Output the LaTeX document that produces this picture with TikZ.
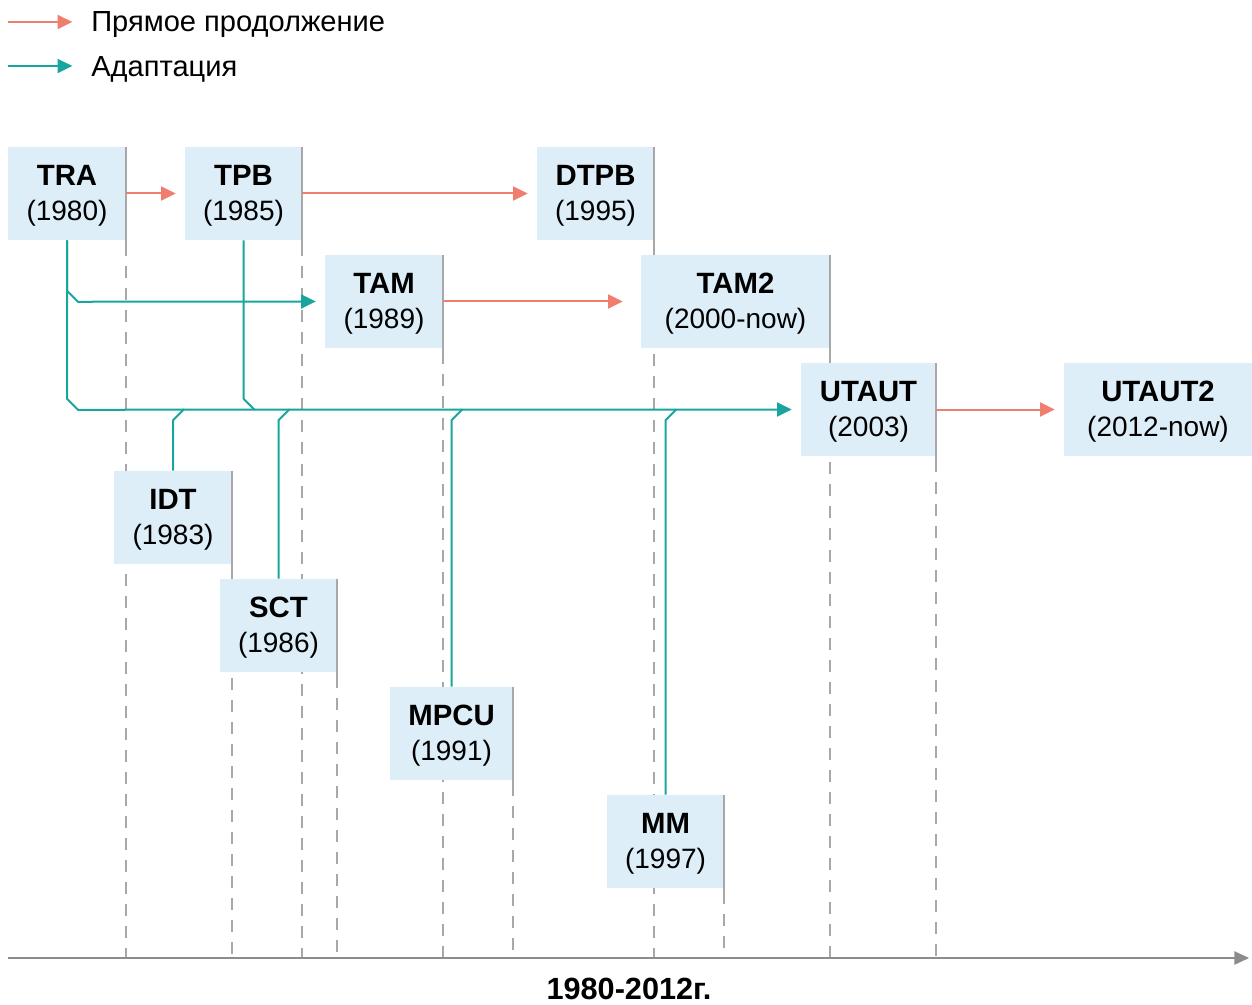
\documentclass[tikz,border=0pt]{standalone}
\usepackage{fontspec}
\setmainfont{Liberation Sans}
\usetikzlibrary{arrows.meta,backgrounds}
\definecolor{boxfill}{HTML}{DDEEF8}
\definecolor{redc}{HTML}{F07E6F}
\definecolor{tealc}{HTML}{17A59D}
\definecolor{greyc}{HTML}{A8A8A8}
\definecolor{axisc}{HTML}{8C8C8C}
\newcommand{\bt}[1]{{\fontsize{22}{26.25}\selectfont\bfseries\rule{0pt}{19pt}#1}}
\begin{document}
\begin{tikzpicture}[x=0.75pt,y=-0.75pt,
  box/.style={fill=boxfill, minimum height=69.75pt, inner sep=0pt, align=center,
    font=\fontsize{21}{26.25}\selectfont},
  redarrow/.style={draw=redc, line width=1.5pt, -{Triangle[length=11pt,width=10.5pt,fill=redc]}, shorten >=6.75pt},
  tealarrow/.style={draw=tealc, line width=1.5pt, -{Triangle[length=11pt,width=10.5pt,fill=tealc]}, shorten >=6.75pt},
  tealline/.style={draw=tealc, line width=1.5pt},
  guide/.style={draw=greyc, line width=1.5pt, dash pattern=on 9pt off 7.5pt},
  rborder/.style={draw=greyc, line width=1.5pt},
  legendtext/.style={inner sep=0pt, anchor=west, font=\fontsize{21.8}{24}\selectfont},
]
\useasboundingbox (0,0) rectangle (1252,1005);

% legend
\coordinate (l1s) at (8,22);
\coordinate (l2s) at (8,66);
\node[legendtext] (l1) at (91,25) {Прямое продолжение};
\node[legendtext] (l2) at (91,69) {Адаптация};
\draw[redarrow, shorten >=14pt] (l1s) -- (l1.west |- l1s);
\draw[tealarrow, shorten >=14pt] (l2s) -- (l2.west |- l2s);

% axis
\coordinate (axisL) at (8,958);
\coordinate (axisR) at (1249,958);
\draw[draw=axisc, line width=1.1pt, -{Triangle[length=11pt,width=10pt,fill=axisc]}] (axisL) -- (axisR);
\node[font=\fontsize{23}{26}\selectfont\bfseries, inner sep=0pt] (axl) at (629,989) {1980-2012г.};

% boxes
\node[box, minimum width=88.5pt]  (TRA)   at (67,193.5)   {\bt{TRA}\\(1980)};
\node[box, minimum width=87.75pt] (TPB)   at (243.5,193.5) {\bt{TPB}\\(1985)};
\node[box, minimum width=87.75pt] (DTPB)  at (595.5,193.5) {\bt{DTPB}\\(1995)};
\node[box, minimum width=88.5pt]  (TAM)   at (384,301.5)  {\bt{TAM}\\(1989)};
\node[box, minimum width=141.75pt](TAM2)  at (735.5,301.5) {\bt{TAM2}\\(2000-now)};
\node[box, minimum width=101.25pt](UTAUT) at (868.5,409.5) {\bt{UTAUT}\\(2003)};
\node[box, minimum width=141pt]   (UTAUT2) at (1158,409.5) {\bt{UTAUT2}\\(2012-now)};
\node[box, minimum width=88.5pt]  (IDT)   at (173,517.5)  {\bt{IDT}\\(1983)};
\node[box, minimum width=87.75pt] (SCT)   at (278.5,625.5) {\bt{SCT}\\(1986)};
\node[box, minimum width=92.25pt] (MPCU)  at (451.5,733.5) {\bt{MPCU}\\(1991)};
\node[box, minimum width=87.75pt] (MM)    at (665.5,841.5) {\bt{MM}\\(1997)};

% guides behind boxes
\begin{pgfonlayer}{background}
\foreach \n in {TRA,TPB,DTPB,TAM,TAM2,UTAUT,IDT,SCT,MPCU,MM}{
  \draw[guide] ([yshift=-3pt]\n.south east) -- (\n.south east |- axisL);
}
\end{pgfonlayer}
\foreach \n in {TRA,TPB,DTPB,TAM,TAM2,UTAUT,IDT,SCT,MPCU,MM}{
  \draw[rborder] (\n.north east) -- ([yshift=-3pt]\n.south east);
}

% direct continuation
\draw[redarrow] (TRA.east) -- (TPB.west);
\draw[redarrow] (TPB.east) -- (DTPB.west);
\draw[redarrow, shorten >=13.5pt] (TAM.east) -- (TAM2.west);
\draw[redarrow] (UTAUT.east) -- (UTAUT2.west);

% adaptation
\draw[tealarrow] (TRA.south) -- ++(0,50.5) -- ++(11,11) -- (TAM.west);
\draw[tealarrow] (TRA.south) -- ++(0,158.5) -- ++(11,11) -- (UTAUT.west);
\draw[tealline] (TPB.south) -- ++(0,158.5) -- ++(11,11);
\draw[tealline] (IDT.north) -- ++(0,-50.5) -- ++(11,-11);
\draw[tealline] (SCT.north) -- ++(0,-158.5) -- ++(11,-11);
\draw[tealline] (MPCU.north) -- ++(0,-266.5) -- ++(11,-11);
\draw[tealline] (MM.north) -- ++(0,-374.5) -- ++(11,-11);
\end{tikzpicture}
\end{document}
